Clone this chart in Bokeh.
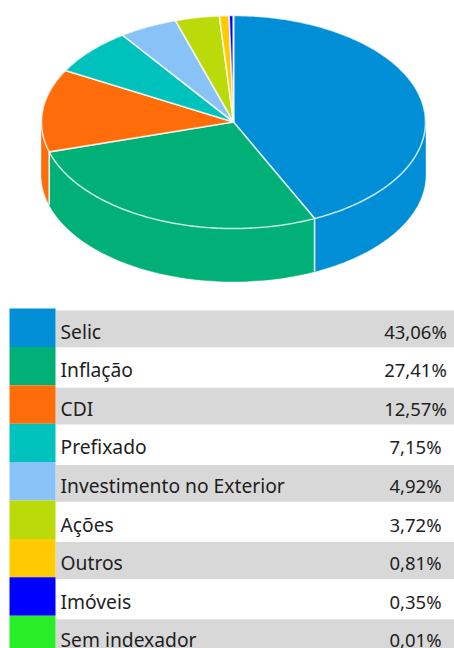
import numpy as np
from bokeh.plotting import figure
from bokeh.models import ColumnDataSource, Range1d
from bokeh.core.properties import value
from bokeh.embed import file_html
from bokeh.resources import INLINE

categories = ["Selic", "Inflação", "CDI", "Prefixado", "Investimento no Exterior", "Ações", "Outros", "Imóveis", "Sem indexador"]
shares = [43.06, 27.41, 12.57, 7.15, 4.92, 3.72, 0.81, 0.35, 0.01]
labels = ["43,06%", "27,41%", "12,57%", "7,15%", "4,92%", "3,72%", "0,81%", "0,35%", "0,01%"]
colors = ["#008FD6", "#00B077", "#FF6D0A", "#00C2BC", "#89C2F7", "#BBDA0A", "#FFCB00", "#0000FF", "#27EE27"]

CX, CY, RX, RY, DEPTH = 233.0, 121.5, 192.0, 106.5, 53.0
ROW0, ROWH = 310.0, 38.6
SW0, SWH = 308.0, 38.4
TEXT_DY = 20.5

p = figure(width=454, height=648, output_backend="svg", toolbar_location=None,
           x_range=Range1d(0, 454), y_range=Range1d(648, 0), min_border=0,
           background_fill_color="white", border_fill_color="white")
p.axis.visible = False
p.grid.visible = False
p.outline_line_color = None

def ell(t, dy=0.0):
    return CX + RX * np.sin(t), CY + dy - RY * np.cos(t)

total = sum(shares)
edges = np.concatenate([[0.0], np.cumsum(shares)]) / total * 2 * np.pi

# side walls: only the front part of the rim (pi/2 .. 3pi/2) is visible
wx, wy, wc = [], [], []
for a, b, c in zip(edges[:-1], edges[1:], colors):
    lo, hi = max(a, np.pi / 2), min(b, 3 * np.pi / 2)
    if hi <= lo:
        continue
    t = np.linspace(lo, hi, 80)
    x1, y1 = ell(t)
    x2, y2 = ell(t[::-1], DEPTH)
    wx.append(np.concatenate([x1, x2]).tolist())
    wy.append(np.concatenate([y1, y2]).tolist())
    wc.append(c)
p.patches(wx, wy, fill_color=wc, line_color=wc, line_width=1, line_alpha=0.6)

# vertical white seams between wall pieces on the front
for b in edges[1:-1]:
    if np.pi / 2 < b < 3 * np.pi / 2:
        x1, y1 = ell(b)
        x2, y2 = ell(b, DEPTH)
        p.line([x1, x2], [y1, y2], line_color="#DDF3EC", line_width=1.6)

# top faces
tx, ty = [], []
for a, b in zip(edges[:-1], edges[1:]):
    t = np.linspace(a, b, max(int((b - a) * 60), 3))
    x, y = ell(t)
    tx.append([CX] + x.tolist() + [CX])
    ty.append([CY] + y.tolist() + [CY])
p.patches(tx, ty, fill_color=colors, line_color="#FFFFFF", line_width=1.6, line_alpha=0.75)

# table bands
n = len(categories)
idx = np.arange(n)
band = idx[idx % 2 == 0]
p.quad(left=55, right=454, top=ROW0 + band * ROWH, bottom=ROW0 + band * ROWH + 36.8,
       fill_color="#D8D8D8", line_color=None)
# swatches
p.quad(left=9, right=55, top=SW0 + idx * SWH, bottom=SW0 + (idx + 1) * SWH,
       fill_color=colors, line_color=None)

src = ColumnDataSource(dict(name=categories, lab=labels,
                            y=(ROW0 + TEXT_DY + idx * ROWH).tolist()))
p.text(x=60, y="y", text="name", source=src, text_font=value("Noto Sans"),
       text_font_size="19.25px", text_color="#1E1E1E", text_baseline="alphabetic")
p.text(x=415, y="y", text="lab", source=src, text_font=value("Noto Sans"),
       text_font_size="18.5px", text_color="#1E1E1E", text_baseline="alphabetic", text_align="center")

open("out.html", "w").write(file_html(p, INLINE))
